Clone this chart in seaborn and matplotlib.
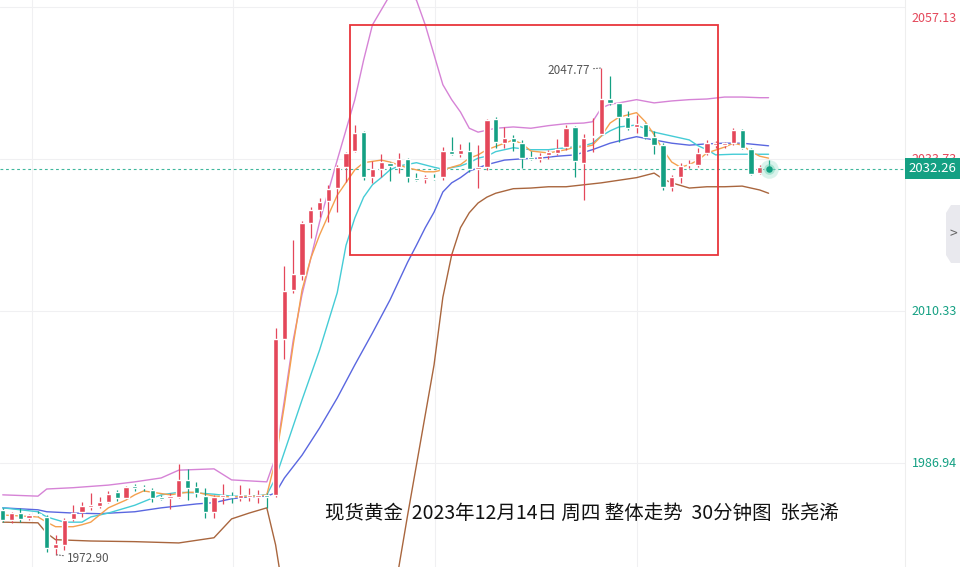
import matplotlib
matplotlib.use("Agg")
import matplotlib.pyplot as plt
from matplotlib.patches import Rectangle, Polygon
from matplotlib.transforms import blended_transform_factory
import numpy as np
import pandas as pd
import seaborn as sns

sns.set_theme(style="white")
plt.rcParams['font.family'] = ['Noto Sans CJK SC', 'DejaVu Sans']
plt.rcParams['axes.unicode_minus'] = False

# 30分钟K线 (开 高 低 收)
opens = [1979.8, 1978.2, 1979.3, 1978.5, 1979.2, 1978.7, 1973.9, 1974.4, 1978.4, 1979.5,
         1980.2, 1980.4, 1981.0, 1982.5, 1981.6, 1983.4, 1983.2, 1982.9, 1981.7, 1981.6,
         1981.8, 1984.4, 1983.3, 1981.9, 1979.5, 1981.8, 1981.9, 1981.6, 1981.8, 1981.8,
         1982.1, 1982.1, 2006.1, 2013.6, 2015.9, 2023.9, 2025.9, 2027.3, 2029.3, 2032.5,
         2035.0, 2037.9, 2031.0, 2032.2, 2033.2, 2032.5, 2033.8, 2030.8, 2030.7, 2030.9,
         2031.0, 2035.0, 2034.5, 2035.0, 2032.2, 2032.5, 2039.9, 2036.2, 2037.0, 2036.2,
         2034.0, 2033.8, 2034.4, 2034.7, 2035.6, 2038.7, 2033.2, 2037.1, 2037.6, 2043.0,
         2042.4, 2040.2, 2038.7, 2039.2, 2037.2, 2035.9, 2029.5, 2031.0, 2032.8, 2032.9,
         2034.7, 2035.9, 2035.9, 2036.2, 2038.2, 2035.3, 2031.6, 2032.4]
highs = [1980.1, 1979.5, 1980.1, 1979.2, 1979.6, 1979.0, 1975.9, 1978.5, 1980.5, 1981.0,
         1982.4, 1981.8, 1982.7, 1982.9, 1983.5, 1983.8, 1983.6, 1983.2, 1982.1, 1982.4,
         1986.9, 1986.1, 1984.1, 1983.2, 1982.1, 1983.8, 1982.5, 1983.6, 1983.2, 1982.9,
         1982.4, 2007.8, 2017.3, 2021.3, 2024.2, 2026.4, 2027.8, 2029.8, 2032.9, 2034.9,
         2039.0, 2038.0, 2033.5, 2034.5, 2033.3, 2034.7, 2033.9, 2031.6, 2031.3, 2031.5,
         2035.6, 2037.2, 2036.1, 2036.4, 2035.9, 2039.9, 2040.2, 2038.7, 2037.5, 2036.7,
         2035.0, 2034.7, 2035.2, 2036.9, 2039.0, 2038.9, 2037.6, 2040.1, 2047.77, 2046.5,
         2042.4, 2041.2, 2040.5, 2039.3, 2038.1, 2036.2, 2031.3, 2033.2, 2033.6, 2035.5,
         2036.7, 2036.5, 2036.4, 2038.5, 2038.4, 2035.5, 2032.9, 2033.6]
lows = [1977.9, 1977.8, 1977.9, 1978.3, 1978.8, 1973.3, 1972.9, 1973.6, 1978.1, 1978.7,
        1979.8, 1980.1, 1980.9, 1981.2, 1981.5, 1982.7, 1982.7, 1981.0, 1981.3, 1979.9,
        1981.6, 1981.3, 1981.8, 1978.5, 1978.5, 1980.7, 1980.9, 1981.2, 1981.2, 1980.9,
        1980.1, 1981.8, 2003.0, 2013.2, 2015.2, 2021.6, 2024.9, 2024.1, 2025.6, 2030.2,
        2034.9, 2030.5, 2030.1, 2031.0, 2030.4, 2031.6, 2030.2, 2030.4, 2030.1, 2030.5,
        2030.5, 2034.4, 2034.1, 2031.8, 2029.3, 2032.1, 2035.5, 2035.5, 2035.0, 2032.4,
        2033.6, 2033.3, 2033.8, 2034.4, 2035.2, 2031.0, 2027.5, 2034.9, 2037.5, 2042.1,
        2036.4, 2038.2, 2037.8, 2036.9, 2034.5, 2029.0, 2028.9, 2030.1, 2032.4, 2032.5,
        2034.4, 2035.5, 2035.5, 2035.9, 2035.3, 2031.3, 2031.5, 2032.1]
closes = [1978.2, 1979.3, 1978.4, 1979.0, 1979.0, 1973.9, 1974.5, 1978.2, 1979.3, 1980.4,
          1980.5, 1981.0, 1982.2, 1981.6, 1983.3, 1983.2, 1983.1, 1981.6, 1981.5, 1981.9,
          1984.4, 1983.2, 1982.4, 1979.5, 1981.8, 1982.0, 1981.7, 1982.1, 1982.1, 1982.0,
          1981.8, 2006.1, 2013.5, 2016.1, 2023.9, 2025.9, 2027.2, 2029.2, 2032.5, 2034.7,
          2037.8, 2031.0, 2032.2, 2033.3, 2032.7, 2033.8, 2031.0, 2030.6, 2031.0, 2030.7,
          2035.0, 2034.5, 2035.2, 2032.2, 2032.5, 2039.8, 2036.4, 2037.0, 2036.4, 2033.9,
          2033.8, 2034.2, 2034.9, 2035.3, 2038.5, 2033.5, 2037.0, 2037.3, 2043.0, 2042.4,
          2040.2, 2038.5, 2039.2, 2037.2, 2035.9, 2029.5, 2031.0, 2032.7, 2033.0, 2034.7,
          2036.2, 2036.2, 2036.2, 2038.2, 2035.5, 2031.5, 2032.5, 2032.26]

# 均线 / 布林带 (读图所得: K线序号, 价格)
ma5_x = [0, 4, 5, 6, 8, 9, 10, 11, 12, 14, 15, 16, 17, 19, 21, 22, 23, 24, 26, 29, 30,
         31, 32, 33, 34, 35, 36, 38, 40, 41, 43, 44, 46, 48, 49, 50, 52, 53, 54, 55, 57,
         58, 59, 60, 62, 64, 65, 66, 67, 68, 69, 70, 72, 73, 74, 75, 76, 77, 78, 79, 80,
         82, 83, 84, 85, 86, 87]
ma5_y = [1979.0, 1978.7, 1977.9, 1977.2, 1977.2, 1977.5, 1977.9, 1979.0, 1980.1, 1981.3,
         1982.1, 1982.7, 1982.5, 1982.1, 1982.5, 1982.5, 1982.2, 1981.9, 1981.8, 1981.9,
         1982.1, 1987.5, 1995.9, 2005.2, 2013.6, 2018.5, 2022.1, 2028.2, 2032.1, 2033.2,
         2033.6, 2033.3, 2032.4, 2031.8, 2031.8, 2032.1, 2032.9, 2033.9, 2034.4, 2035.2,
         2036.2, 2036.7, 2036.1, 2035.0, 2034.7, 2035.2, 2035.6, 2035.6, 2035.9, 2037.3,
         2039.3, 2040.2, 2040.9, 2039.5, 2037.5, 2035.2, 2033.3, 2032.5, 2032.9, 2033.6,
         2034.7, 2035.6, 2036.2, 2035.9, 2034.9, 2034.2, 2033.9]
ma10_x = [0, 4, 5, 7, 9, 10, 12, 14, 15, 17, 18, 20, 22, 24, 26, 28, 30, 31, 32, 34, 36,
          38, 39, 40, 41, 42, 43, 44, 45, 47, 49, 50, 52, 53, 54, 55, 56, 58, 60, 62, 64,
          66, 67, 68, 69, 70, 72, 74, 76, 78, 79, 80, 81, 83, 87]
ma10_y = [1980.1, 1979.5, 1978.7, 1977.9, 1977.9, 1978.7, 1979.3, 1980.1, 1980.5, 1981.6,
          1982.1, 1982.5, 1982.4, 1982.2, 1981.9, 1981.9, 1982.1, 1984.7, 1988.7, 1996.7,
          2004.4, 2013.2, 2020.5, 2024.7, 2027.9, 2029.8, 2030.9, 2032.1, 2032.7, 2033.2,
          2032.5, 2032.2, 2032.7, 2033.2, 2033.9, 2034.2, 2034.9, 2035.5, 2035.2, 2035.2,
          2035.5, 2035.8, 2036.2, 2037.3, 2038.1, 2038.7, 2039.0, 2037.9, 2037.3, 2036.7,
          2035.8, 2035.2, 2034.4, 2034.5, 2034.5]
mid_x = [0, 4, 5, 8, 11, 15, 18, 20, 22, 24, 26, 28, 30, 31, 32, 34, 36, 38, 40, 42, 44,
         46, 47, 48, 49, 50, 51, 52, 53, 55, 57, 59, 61, 63, 65, 67, 69, 71, 72, 74, 76,
         78, 80, 82, 84, 87]
mid_y = [1980.1, 1979.8, 1979.5, 1979.3, 1979.2, 1979.5, 1980.1, 1980.4, 1980.7, 1980.9,
         1981.5, 1981.8, 1981.9, 1982.4, 1984.7, 1988.2, 1992.4, 1997.0, 2002.1, 2007.0,
         2012.1, 2017.9, 2020.5, 2023.2, 2025.6, 2028.7, 2030.1, 2030.9, 2031.9, 2032.9,
         2033.6, 2033.8, 2033.9, 2034.2, 2034.4, 2035.2, 2036.2, 2036.9, 2037.2, 2036.7,
         2036.2, 2035.9, 2036.1, 2036.2, 2036.2, 2035.8]
upper_x = [0, 4, 5, 8, 12, 15, 18, 20, 24, 26, 30, 31, 32, 33, 34, 36, 38, 40, 41, 42,
           43, 44, 45, 46, 47, 48, 49, 50, 51, 52, 53, 54, 55, 56, 58, 60, 62, 64, 66,
           67, 68, 69, 70, 72, 74, 76, 78, 80, 82, 84, 86, 87]
upper_y = [1982.1, 1981.9, 1983.0, 1983.2, 1983.6, 1984.1, 1984.7, 1985.9, 1986.1, 1984.4,
           1984.1, 1987.9, 1996.7, 2005.9, 2012.9, 2024.1, 2033.6, 2042.9, 2049.0, 2054.4,
           2056.7, 2059.0, 2060.1, 2059.5, 2058.2, 2054.4, 2049.8, 2045.2, 2042.9, 2041.0,
           2038.5, 2037.9, 2038.2, 2038.5, 2038.7, 2038.5, 2038.9, 2039.2, 2039.3, 2039.5,
           2041.6, 2042.2, 2042.4, 2042.9, 2042.4, 2042.7, 2042.9, 2043.0, 2043.3, 2043.3,
           2043.2, 2043.2]
lower_x = [0, 4, 5, 6, 10, 15, 20, 24, 26, 28, 30, 31, 32, 33, 34, 36, 38, 40, 42, 43,
           44, 45, 46, 47, 48, 49, 50, 51, 52, 53, 54, 55, 56, 58, 60, 62, 64, 66, 68,
           70, 72, 74, 75, 76, 78, 80, 82, 84, 86, 87]
lower_y = [1977.9, 1977.8, 1976.2, 1975.2, 1975.0, 1974.9, 1974.7, 1975.5, 1978.4, 1979.3,
           1980.1, 1974.4, 1965.9, 1953.6, 1944.4, 1935.2, 1930.5, 1930.5, 1936.7, 1947.5,
           1958.2, 1971.0, 1979.0, 1986.7, 1994.4, 2002.1, 2012.5, 2019.0, 2023.2, 2025.5,
           2027.0, 2027.9, 2028.5, 2029.2, 2029.3, 2029.5, 2029.5, 2029.8, 2030.1, 2030.5,
           2030.9, 2031.6, 2030.7, 2030.1, 2029.3, 2029.5, 2029.5, 2029.6, 2029.0, 2028.5]

last_price = 2032.26
price_ticks = [1986.94, 2010.33, 2033.73, 2057.13]
time_grid = [3.3, 26.2, 49.1, 72.1]
box_x0, box_x1 = 39.45, 81.2      # 红框范围
box_y0, box_y1 = 2019.0, 2054.4
title = "现货黄金  2023年12月14日 周四 整体走势  30分钟图  张尧浠"

RED = '#e4475a'
GREEN = '#14a083'

df = pd.DataFrame({'o': opens, 'h': highs, 'l': lows, 'c': closes})
df['i'] = np.arange(len(df))
df['up'] = df['c'] >= df['o']
df['col'] = np.where(df['up'], RED, GREEN)
df['bot'] = df[['o', 'c']].min(axis=1)
df['hgt'] = (df['c'] - df['o']).abs().clip(lower=0.15)

fig = plt.figure(figsize=(9.6, 5.67), dpi=100)
ax = fig.add_axes([0, 0, 905 / 960, 1])

# 网格
for p in price_ticks:
    ax.axhline(p, color='#f0f0f2', lw=0.8, zorder=0)
for t in time_grid:
    ax.axvline(t, color='#f0f0f2', lw=0.8, zorder=0)

# 均线和布林带
lines = [(upper_x, upper_y, '#d683d6'), (lower_x, lower_y, '#a9663e'),
         (mid_x, mid_y, '#5a67e0'), (ma10_x, ma10_y, '#45ccd6'),
         (ma5_x, ma5_y, '#f5a04e')]
for xs, ys, c in lines:
    sns.lineplot(x=xs, y=ys, ax=ax, color=c, lw=1.0, sort=False, estimator=None, zorder=2)

# K线
ax.vlines(df['i'], df['l'], df['h'], colors=df['col'], lw=0.9, zorder=3)
ax.bar(df['i'], df['hgt'], bottom=df['bot'], width=0.6, color=df['col'], zorder=4)

# 最新价
ax.axhline(last_price, color='#3fb79c', lw=0.8, ls=(0, (2.5, 2.5)), zorder=1)
li = df['i'].iloc[-1]
ax.scatter([li], [last_price], s=180, color='#6fd3b4', alpha=0.25, lw=0, zorder=5)
ax.scatter([li], [last_price], s=60, color='#6fd3b4', alpha=0.45, lw=0, zorder=5)
ax.scatter([li], [last_price], s=22, color=GREEN, lw=0, zorder=6)

# 红框
ax.add_patch(Rectangle((box_x0, box_y0), box_x1 - box_x0, box_y1 - box_y0,
                       fill=False, ec='#e8353b', lw=1.3, zorder=7))

# 最高 最低 标注
hi_i = int(df['h'].idxmax())
lo_i = int(df['l'].idxmin())
ax.annotate(f"{df['h'].max():.2f}", xy=(hi_i, df['h'].max()), xytext=(-8, -2),
            textcoords='offset points', ha='right', va='center', fontsize=8.5, color='#555555',
            arrowprops=dict(arrowstyle='-', ls=':', color='#777777', lw=0.8, shrinkA=0, shrinkB=0))
ax.annotate(f"{df['l'].min():.2f}", xy=(lo_i, df['l'].min()), xytext=(8, -3),
            textcoords='offset points', ha='left', va='center', fontsize=8.5, color='#555555',
            arrowprops=dict(arrowstyle='-', ls=':', color='#777777', lw=0.8, shrinkA=0, shrinkB=0))

ax.set_xlim(-0.31, 102.5)
ax.set_ylim(1971.0, 2058.23)
ax.set_xticks([])
ax.set_yticks([])
for s in ['top', 'left', 'bottom']:
    ax.spines[s].set_visible(False)
ax.spines['right'].set_color('#eeeeee')
ax.spines['right'].set_linewidth(0.8)

# 右侧价格刻度
tr = blended_transform_factory(ax.transAxes, ax.transData)
for p in price_ticks:
    col = RED if p > last_price else GREEN
    off = -8 if p == max(price_ticks) else 0
    ax.annotate(f"{p:.2f}", xy=(1.0, p), xycoords=tr, xytext=(5, off),
                textcoords='offset points', ha='left', va='center', fontsize=9,
                color=col, annotation_clip=False)

# 最新价标签
tr_fig = blended_transform_factory(fig.transFigure, ax.transData)
tag_h = 3.2
fig.patches.append(Rectangle((905 / 960, last_price - tag_h / 2), 55 / 960, tag_h,
                             transform=tr_fig, fc=GREEN, ec='none', zorder=10))
fig.text(932 / 960, last_price, f"{last_price:.2f}", transform=tr_fig, ha='center',
         va='center', fontsize=9.5, color='white', zorder=11)

# 右侧小标签
def px(x, y):
    return (x / 960, 1 - y / 567)
tab = Polygon([px(960, 205), px(951, 205), px(946, 213), px(946, 255), px(951, 263), px(960, 263)],
              closed=True, transform=fig.transFigure, fc='#e9e9ee', ec='none')
fig.patches.append(tab)
fig.text(*px(953, 234), '>', ha='center', va='center', fontsize=10, color='#666666')

fig.text(*px(325, 513), title, ha='left', va='center', fontsize=14, color='#111111')

fig.savefig('out.png', dpi=100)
